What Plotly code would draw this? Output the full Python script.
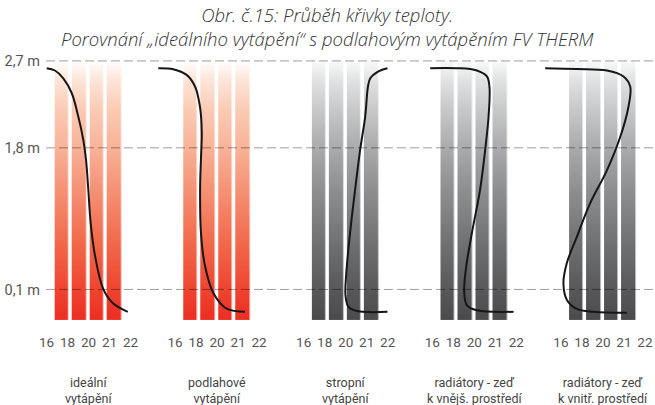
import numpy as np
import plotly.graph_objects as go

# Temperature scale under each panel (evenly spaced labels, index 0..4)
TEMP_TICKS = ["16", "18", "20", "21", "22"]

# Room height marks (relative height: 0 = floor, 1 = ceiling)
HEIGHT_TICK_TEXT = ["0,1 m", "1,8 m", "2,7 m"]
HEIGHT_TICK_POS = [0.1165, 0.664, 1.0]

TITLE_LINES = [
    "Obr. č.15: Průběh křivky teploty.",
    "Porovnání „ideálního vytápění“ s podlahovým vytápěním FV THERM",
]

PANEL_NAMES = [
    ("ideální", "vytápění"),
    ("podlahové", "vytápění"),
    ("stropní", "vytápění"),
    ("radiátory - zeď", "k vnějš. prostředí"),
    ("radiátory - zeď", "k vnitř. prostředí"),
]
PANEL_PALETTE = ["warm", "warm", "grey", "grey", "grey"]

# Temperature profiles: position on the temperature scale vs. relative height
IDEAL_T = [0.01, 0.40, 0.80, 1.20, 1.51, 1.75, 1.88, 1.99, 2.10, 2.31, 2.70, 3.18, 3.87]
IDEAL_H = [0.972, 0.963, 0.933, 0.876, 0.786, 0.696, 0.619, 0.504, 0.376, 0.247, 0.119, 0.062, 0.030]

FLOOR_T = [-0.80, -0.09, 0.55, 0.95, 1.19, 1.27, 1.23, 1.19, 1.23, 1.42, 1.82, 2.46, 3.33]
FLOOR_H = [0.972, 0.968, 0.946, 0.901, 0.820, 0.722, 0.619, 0.504, 0.337, 0.209, 0.103, 0.042, 0.030]

CEILING_T = [3.99, 3.56, 3.17, 3.06, 2.93, 2.69, 2.45, 2.21, 2.02, 1.99, 2.13, 2.53, 3.99]
CEILING_H = [0.972, 0.960, 0.933, 0.901, 0.786, 0.658, 0.504, 0.337, 0.170, 0.094, 0.049, 0.033, 0.030]

RAD_OUTER_T = [-0.10, 1.17, 2.12, 2.60, 2.72, 2.68, 2.52, 2.28, 1.89, 1.60, 1.52, 1.65, 2.12, 3.87]
RAD_OUTER_H = [0.972, 0.972, 0.963, 0.940, 0.901, 0.786, 0.658, 0.504, 0.337, 0.196, 0.106, 0.055, 0.036, 0.030]

RAD_INNER_T = [-0.75, 0.76, 2.19, 2.98, 3.30, 3.21, 2.82, 2.19, 1.39, 0.76, 0.28, 0.12, 0.28, 0.76, 1.55, 3.14]
RAD_INNER_H = [0.972, 0.969, 0.963, 0.940, 0.901, 0.820, 0.705, 0.577, 0.449, 0.320, 0.218, 0.141, 0.077, 0.041, 0.030, 0.026]

PROFILES = [
    (IDEAL_T, IDEAL_H),
    (FLOOR_T, FLOOR_H),
    (CEILING_T, CEILING_H),
    (RAD_OUTER_T, RAD_OUTER_H),
    (RAD_INNER_T, RAD_INNER_H),
]

COLORSCALES = {
    "warm": [
        [0.00, "#ec2e24"], [0.12, "#ef4530"], [0.30, "#f26a4c"], [0.50, "#f59276"],
        [0.66, "#f8b297"], [0.82, "#fbcdb7"], [0.93, "#fde6da"], [1.00, "#ffffff"],
    ],
    "grey": [
        [0.00, "#4b4b4d"], [0.12, "#59595b"], [0.30, "#717274"], [0.50, "#8e8f91"],
        [0.66, "#a9aaac"], [0.82, "#c9cacb"], [0.93, "#e2e3e4"], [1.00, "#fafafa"],
    ],
}

W, H = 655, 405
FONT = "Roboto"
TITLE_FONT = "Open Sans"

# geometry (pixels)
PX_PER_TICK = 21.0
FIRST_ORIGIN = 46.5       # pixel of tick "16" in the first panel
PANEL_STEP = 128.6        # horizontal distance between panels
X_RANGE = [-1.0, 4.4]
Y_RANGE = [-0.05, 1.05]
Y_TOP_PX, Y_BOT_PX = 48.0, 332.5

# column strips inside each panel
N_STRIPS = 4
STRIP_PERIOD = 0.83
STRIP_GAP_PX = 3.6
N_ROWS = 130

fig = go.Figure()
layout_axes = {}

strip_edges = [2.0 + STRIP_PERIOD * (k - N_STRIPS / 2) for k in range(N_STRIPS + 1)]
row_edges = np.linspace(0.0, 1.0, N_ROWS + 1)
row_mid = (row_edges[:-1] + row_edges[1:]) / 2
z_grid = np.repeat(row_mid[:, None], N_STRIPS, axis=1)

for i, ((t_vals, h_vals), palette) in enumerate(zip(PROFILES, PANEL_PALETTE)):
    xname = "x" if i == 0 else f"x{i + 1}"
    axkey = "xaxis" if i == 0 else f"xaxis{i + 1}"
    origin = FIRST_ORIGIN + PANEL_STEP * i
    left = origin + X_RANGE[0] * PX_PER_TICK
    right = origin + X_RANGE[1] * PX_PER_TICK
    layout_axes[axkey] = dict(
        domain=[left / W, right / W],
        range=X_RANGE,
        anchor="y",
        tickmode="array",
        tickvals=list(range(len(TEMP_TICKS))),
        ticktext=TEMP_TICKS,
        ticks="",
        showgrid=False,
        zeroline=False,
        showline=False,
        tickfont=dict(family=FONT, size=13.5, color="#555555"),
        fixedrange=True,
    )

    fig.add_trace(go.Heatmap(
        x=strip_edges,
        y=row_edges,
        z=z_grid,
        zmin=0, zmax=1,
        colorscale=COLORSCALES[palette],
        showscale=False,
        xgap=STRIP_GAP_PX,
        ygap=0,
        hoverinfo="skip",
        xaxis=xname, yaxis="y",
    ))

    fig.add_trace(go.Scatter(
        x=t_vals, y=h_vals,
        mode="lines",
        line=dict(color="#161616", width=2, shape="spline", smoothing=1.0),
        hoverinfo="skip",
        showlegend=False,
        xaxis=xname, yaxis="y",
    ))

    # two-line panel caption under the temperature scale
    fig.add_annotation(
        x=2.0, xref=xname,
        y=1 - 390.0 / H, yref="paper",
        text="<br>".join(PANEL_NAMES[i]), showarrow=False,
        xanchor="center", yanchor="middle", align="center",
        font=dict(family=FONT, size=12.5, color="#444444"),
    )

# dashed height marks across the whole drawing
for pos in HEIGHT_TICK_POS:
    fig.add_shape(
        type="line", xref="paper", yref="y",
        x0=46 / W, x1=1.0, y0=pos, y1=pos,
        line=dict(color="rgba(0,0,0,0.38)", width=1, dash="9px,4px"),
        layer="above",
    )

# two-line italic heading
fig.add_annotation(
    x=0.4995, xref="paper", y=1 - 26.5 / H, yref="paper",
    text="<i>" + "<br>".join(TITLE_LINES) + "</i>", showarrow=False,
    xanchor="center", yanchor="middle", align="center",
    font=dict(family=TITLE_FONT, size=18.5, color="#333333", weight=300),
)

fig.update_layout(
    width=W, height=H,
    margin=dict(l=0, r=0, t=0, b=0),
    paper_bgcolor="white",
    plot_bgcolor="rgba(0,0,0,0)",
    showlegend=False,
    yaxis=dict(
        domain=[1 - Y_BOT_PX / H, 1 - Y_TOP_PX / H],
        range=Y_RANGE,
        anchor="free",
        position=40 / W,
        tickmode="array",
        tickvals=HEIGHT_TICK_POS,
        ticktext=HEIGHT_TICK_TEXT,
        ticks="",
        showgrid=False,
        zeroline=False,
        showline=False,
        tickfont=dict(family=FONT, size=14.5, color="#555555"),
        fixedrange=True,
    ),
    **layout_axes,
)

fig.write_html("out.html")
